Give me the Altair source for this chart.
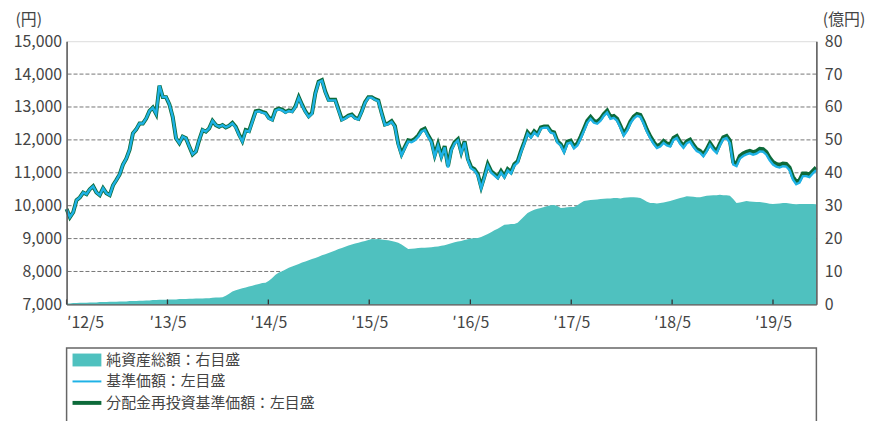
import altair as alt
import pandas as pd

# ---- data ----
# 基準価額 (円), sampled every 12 days from 2012-05-01
base = [
    9900, 9650, 9800, 10170, 10250, 10400, 10350, 10500, 10590, 10400,
    10320, 10530, 10380, 10320, 10620, 10780, 10950, 11250, 11430, 11700,
    12200, 12320, 12500, 12500, 12650, 12880, 12980, 12790, 13650, 13300,
    13300, 13080, 12700, 12050, 11900, 12100, 12050, 11800, 11560, 11650,
    12000, 12300, 12250, 12350, 12580, 12450, 12400, 12450, 12380, 12430,
    12500, 12380, 12150, 11950, 12280, 12250, 12550, 12850, 12870, 12830,
    12800, 12650, 12600, 12890, 12930, 12900, 12830, 12880, 12850, 13000,
    13280, 13050, 12850, 12700, 12800, 13400, 13750, 13800, 13450, 13200,
    13200, 13200, 12900, 12600, 12650, 12720, 12750, 12650, 12620, 12850,
    13130, 13280, 13280, 13220, 13180, 12800, 12450, 12480, 12550, 12400,
    11850, 11530, 11750, 11950, 11930, 11990, 12090, 12250, 12300, 12100,
    11930, 11500, 11830, 11470, 11770, 11160, 11680, 11890, 11980, 11590,
    11920, 11380, 11130, 11070, 10920, 10530, 10860, 11220, 11010, 10920,
    10830, 11010, 10860, 11070, 10980, 11220, 11310, 11620, 11890, 12190,
    12070, 12220, 12130, 12340, 12370, 12370, 12220, 12190, 11920, 11830,
    11620, 11890, 11920, 11740, 11830, 12040, 12280, 12520, 12640, 12520,
    12490, 12580, 12730, 12830, 12640, 12670, 12580, 12370, 12130, 12280,
    12500, 12650, 12730, 12700, 12500, 12250, 12050, 11880, 11750, 11800,
    11910, 11830, 11800, 12000, 12060, 11880, 11760, 11900, 11950, 11790,
    11660, 11610, 11500, 11650, 11850, 11700, 11600, 11830, 12020, 12060,
    11900, 11250, 11200, 11430, 11510, 11560, 11590, 11550, 11580, 11650,
    11640, 11550, 11380, 11250, 11190, 11160, 11200, 11190, 11080, 10800,
    10650, 10700, 10900, 10900, 10870, 10980, 11080,
]

# 分配金再投資基準価額 (円)
reinv = [
    9900, 9650, 9800, 10170, 10250, 10400, 10350, 10500, 10590, 10400,
    10320, 10530, 10380, 10320, 10620, 10780, 10950, 11250, 11430, 11700,
    12200, 12320, 12500, 12500, 12650, 12880, 12980, 12790, 13650, 13300,
    13300, 13080, 12700, 12050, 11900, 12100, 12050, 11800, 11560, 11650,
    12000, 12300, 12250, 12350, 12580, 12450, 12400, 12450, 12380, 12430,
    12520, 12400, 12170, 11970, 12300, 12270, 12570, 12870, 12890, 12850,
    12820, 12670, 12620, 12910, 12950, 12920, 12850, 12900, 12870, 13020,
    13300, 13070, 12870, 12720, 12820, 13420, 13770, 13820, 13470, 13220,
    13220, 13220, 12920, 12620, 12670, 12740, 12770, 12670, 12640, 12870,
    13150, 13300, 13300, 13240, 13200, 12820, 12470, 12500, 12570, 12420,
    11890, 11570, 11790, 11990, 11970, 12030, 12130, 12290, 12340, 12140,
    11970, 11540, 11870, 11510, 11810, 11200, 11720, 11930, 12020, 11630,
    11960, 11420, 11170, 11110, 10960, 10570, 10900, 11260, 11050, 10960,
    10870, 11050, 10900, 11110, 11020, 11260, 11350, 11660, 11930, 12230,
    12110, 12260, 12170, 12380, 12410, 12410, 12260, 12230, 11960, 11870,
    11680, 11950, 11980, 11800, 11890, 12100, 12340, 12580, 12700, 12580,
    12550, 12640, 12790, 12890, 12700, 12730, 12640, 12430, 12190, 12340,
    12560, 12710, 12790, 12760, 12560, 12310, 12110, 11940, 11810, 11860,
    11970, 11890, 11860, 12060, 12120, 11940, 11820, 11960, 12010, 11850,
    11720, 11670, 11560, 11710, 11910, 11760, 11660, 11890, 12080, 12120,
    11980, 11330, 11280, 11510, 11590, 11640, 11670, 11630, 11660, 11730,
    11720, 11630, 11460, 11330, 11270, 11240, 11280, 11270, 11160, 10880,
    10730, 10780, 10980, 10980, 10950, 11060, 11160,
]

# 純資産総額 (億円)
nav = [
    0.3, 0.3, 0.4, 0.4, 0.5, 0.5, 0.5, 0.6, 0.6, 0.6,
    0.7, 0.7, 0.7, 0.8, 0.8, 0.8, 0.9, 0.9, 0.9, 1.0,
    1.0, 1.0, 1.1, 1.1, 1.2, 1.2, 1.3, 1.3, 1.4, 1.4,
    1.4, 1.5, 1.5, 1.5, 1.6, 1.6, 1.6, 1.7, 1.7, 1.8,
    1.8, 1.8, 1.9, 1.9, 2.0, 2.1, 2.1, 2.2, 2.6, 3.2,
    3.9, 4.3, 4.6, 4.9, 5.1, 5.4, 5.7, 6.0, 6.2, 6.5,
    6.6, 7.2, 8.0, 9.0, 9.7, 10.1, 10.6, 11.1, 11.5, 11.9,
    12.3, 12.7, 13.0, 13.4, 13.8, 14.1, 14.5, 14.9, 15.2, 15.6,
    16.0, 16.4, 16.8, 17.1, 17.5, 17.9, 18.2, 18.5, 18.7, 19.0,
    19.3, 19.6, 19.9, 19.8, 19.9, 19.7, 19.6, 19.5, 19.3, 19.0,
    18.7, 18.2, 17.5, 16.8, 16.9, 17.0, 17.1, 17.2, 17.2, 17.3,
    17.4, 17.5, 17.6, 17.8, 18.0, 18.3, 18.6, 18.9, 19.1, 19.3,
    19.6, 19.8, 20.0, 20.1, 20.2, 20.5, 20.9, 21.4, 21.9, 22.5,
    23.0, 23.6, 24.2, 24.3, 24.4, 24.4, 24.8, 25.8, 26.8, 27.8,
    28.3, 28.8, 29.1, 29.3, 29.6, 29.9, 30.1, 30.2, 29.9, 29.3,
    29.4, 29.5, 29.6, 29.6, 30.1, 30.8, 31.4, 31.6, 31.7, 31.8,
    31.9, 32.0, 32.1, 32.2, 32.2, 32.3, 32.3, 32.2, 32.4, 32.5,
    32.6, 32.6, 32.5, 32.3, 31.8, 31.2, 30.8, 30.8, 30.7, 30.8,
    31.0, 31.2, 31.4, 31.7, 32.0, 32.3, 32.6, 32.9, 32.8, 32.7,
    32.6, 32.6, 32.8, 33.0, 33.1, 33.2, 33.2, 33.3, 33.2, 33.2,
    33.0, 32.0, 30.8, 31.0, 31.2, 31.4, 31.3, 31.2, 31.1, 31.1,
    31.0, 30.8, 30.6, 30.5, 30.6, 30.7, 30.8, 30.8, 30.7, 30.5,
    30.4, 30.5, 30.5, 30.5, 30.5, 30.5, 30.4,
]

tick_years = [2012, 2013, 2014, 2015, 2016, 2017, 2018, 2019]
tick_labels = ["′12/5", "′13/5", "′14/5", "′15/5", "′16/5", "′17/5", "′18/5", "′19/5"]
left_ticks = [7000, 8000, 9000, 10000, 11000, 12000, 13000, 14000, 15000]
right_ticks = [0, 10, 20, 30, 40, 50, 60, 70, 80]
grid_vals = [10, 20, 30, 40, 50, 60, 70]
legend_labels = ["純資産総額：右目盛", "基準価額：左目盛", "分配金再投資基準価額：左目盛"]
colors = ["#4fc1bf", "#1eb2e6", "#0d6a3a"]

assert len(base) == len(reinv) == len(nav)

dates = pd.date_range("2012-05-01", periods=len(base), freq="12D")
df = pd.DataFrame({
    "date": dates.strftime("%Y-%m-%d"),
    "base": base,
    "reinv": reinv,
    "nav": nav,
})
tick_df = pd.DataFrame({"date": [f"{y}-05-01" for y in tick_years]})
grid_df = pd.DataFrame({"v": grid_vals})
legend_df = pd.DataFrame({"item": legend_labels})
box_df = pd.DataFrame({"b": [1]})

W, H = 755, 265
FONT = "Noto Sans CJK JP"
TXT = "#444444"
FRAME = "#555555"

xscale = alt.Scale(
    type="utc",
    domain=[alt.DateTime(year=2012, month=5, date=1, utc=True),
            alt.DateTime(year=2019, month=10, date=5, utc=True)],
)
label_arr = "[" + ",".join("'" + t + "'" for t in tick_labels) + "]"
xaxis = alt.Axis(
    values=[alt.DateTime(year=y, month=5, date=1, utc=True) for y in tick_years],
    labelExpr=label_arr + "[utcyear(datum.value) - 2012]",
    title=None, grid=False, tickSize=0, labelPadding=10,
    labelFont=FONT, labelFontSize=16, labelColor=TXT,
    domainColor=FRAME, domainWidth=1.5, zindex=1,
)
X = alt.X("date:T", scale=xscale, axis=xaxis)

nav_scale = alt.Scale(domain=[0, 80], nice=False, zero=True)
nav_axis = alt.Axis(
    orient="right", values=right_ticks, title="(億円)", titleAngle=0,
    titleX=6, titleY=-22, titleAlign="left", titleBaseline="middle",
    titleFont=FONT, titleFontSize=16, titleFontWeight="normal", titleColor=TXT,
    labelFont=FONT, labelFontSize=16, labelColor=TXT, labelPadding=8,
    tickSize=0, grid=False, domainColor=FRAME, domainWidth=1.5, zindex=1,
)
price_scale = alt.Scale(domain=[7000, 15000], nice=False, zero=False)
price_axis = alt.Axis(
    orient="left", values=left_ticks, format=",d", title="(円)", titleAngle=0,
    titleX=-52, titleY=-22, titleAlign="left", titleBaseline="middle",
    titleFont=FONT, titleFontSize=16, titleFontWeight="normal", titleColor=TXT,
    labelFont=FONT, labelFontSize=16, labelColor=TXT, labelPadding=5,
    tickSize=0, grid=False, domainColor=FRAME, domainWidth=1.5, zindex=1,
)

grid = alt.Chart(grid_df).mark_rule(color="#777777", strokeDash=[4, 2], strokeWidth=1).encode(
    y=alt.Y("v:Q", scale=nav_scale, axis=nav_axis)
)
area = alt.Chart(df).mark_area(color=colors[0], opacity=1).encode(
    x=X, y=alt.Y("nav:Q", scale=nav_scale, axis=nav_axis)
)
ticks = alt.Chart(tick_df).mark_rule(color="#333333", strokeWidth=1.3).encode(
    x=X, y=alt.value(H), y2=alt.value(H - 5)
)
nav_layer = alt.layer(grid, area, ticks)

green = alt.Chart(df).mark_line(color=colors[2], strokeWidth=4).encode(
    x=X, y=alt.Y("reinv:Q", scale=price_scale, axis=price_axis)
)
blue = alt.Chart(df).mark_line(color=colors[1], strokeWidth=2.4).encode(
    x=X, y=alt.Y("base:Q", scale=price_scale, axis=price_axis)
)

shapes = [
    "M-1.32,-0.59H1.32V0.59H-1.32Z",
    "M-1.32,-0.09H1.32V0.09H-1.32Z",
    "M-1.32,-0.18H1.32V0.18H-1.32Z",
]
leg = alt.Legend(
    orient="none", legendX=9.5, legendY=310, direction="vertical", title=None,
    labelFont=FONT, labelFontSize=15, labelColor=TXT, labelLimit=600,
    symbolSize=484, symbolStrokeWidth=0, symbolOpacity=1,
    rowPadding=2.6, labelOffset=8.5, padding=0,
)
legend_layer = alt.Chart(legend_df).transform_filter("false").mark_point(filled=True, opacity=1).encode(
    color=alt.Color("item:N", scale=alt.Scale(domain=legend_labels, range=colors), legend=leg),
    shape=alt.Shape("item:N", scale=alt.Scale(domain=legend_labels, range=shapes), legend=leg),
)
box = alt.Chart(box_df).mark_rect(fillOpacity=0, stroke="#666666", strokeWidth=1.5).encode(
    x=alt.value(0), x2=alt.value(W), y=alt.value(309), y2=alt.value(430)
)
price_layer = alt.layer(green, blue, legend_layer, box)

chart = (
    alt.layer(nav_layer, price_layer)
    .resolve_scale(y="independent")
    .properties(
        width=W, height=H,
        autosize=alt.AutoSizeParams(type="none"),
        padding={"left": 59, "top": 32, "right": 56, "bottom": 116},
    )
    .configure_view(stroke=FRAME, strokeWidth=1.5)
    .configure(font=FONT, background="white")
)

chart.save("out.html", embed_options={"renderer": "svg", "actions": False})
